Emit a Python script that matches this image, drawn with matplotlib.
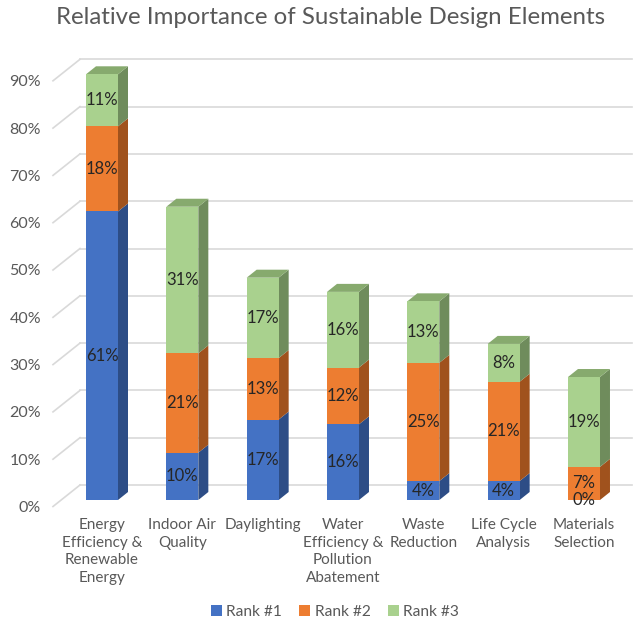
import matplotlib
matplotlib.use("Agg")
import matplotlib.pyplot as plt
from matplotlib.patches import Polygon, Patch

plt.rcParams['font.family'] = ['Lato', 'DejaVu Sans']

categories = ["Energy\nEfficiency &\nRenewable\nEnergy", "Indoor Air\nQuality", "Daylighting",
              "Water\nEfficiency &\nPollution\nAbatement", "Waste\nReduction",
              "Life Cycle\nAnalysis", "Materials\nSelection"]
series_names = ["Rank #1", "Rank #2", "Rank #3"]
rank1 = [61, 10, 17, 16, 4, 4, 0]
rank2 = [18, 21, 13, 12, 25, 21, 7]
rank3 = [11, 31, 17, 16, 13, 8, 19]
yticks = [0, 10, 20, 30, 40, 50, 60, 70, 80, 90]
title = "Relative Importance of Sustainable Design Elements"

front_colors = ["#4472C4", "#ED7D31", "#A9D18E"]
side_colors = ["#2D4D86", "#A0521D", "#6F8C5C"]
top_colors = ["#3A62A8", "#C9682A", "#87AA6E"]

W, H = 637, 624
fig = plt.figure(figsize=(W / 100, H / 100), dpi=100)
ax = fig.add_axes([0, 0, 1, 1])
px_cat = 80.33
px_pct = 4.73
x0_px = 102
y0_px = 500
ax.set_xlim(-x0_px / px_cat, (W - x0_px) / px_cat)
ax.set_ylim(-(H - y0_px) / px_pct, y0_px / px_pct)
ax.axis('off')

bw = 32 / px_cat
ddx = 10 / px_cat
ddy = 8 / px_pct

# walls / gridlines
wall_back_x = (80 - x0_px) / px_cat
wall_front_x = (53 - x0_px) / px_cat
back_dy = 15 / px_pct
front_dy = -6.5 / px_pct
right_x = (632 - x0_px) / px_cat
gc = "#D9D9D9"
for v in yticks:
    ax.plot([wall_front_x, wall_back_x], [v + front_dy, v + back_dy], color=gc, lw=1.2, zorder=1)
    ax.plot([wall_back_x, right_x], [v + back_dy, v + back_dy], color=gc, lw=1.2, zorder=1)
    ax.text((41 - x0_px) / px_cat, v + front_dy - 0.3, f"{v}%", ha='right', va='center',
            fontsize=11.5, color="#595959")

series = [rank1, rank2, rank3]
n = len(categories)
for i in range(n):
    base = 0
    for s in range(3):
        val = series[s][i]
        xl = i - bw / 2
        xr = i + bw / 2
        top = base + val
        z = 3 + i * 0.1
        if val > 0:
            ax.bar(i, val, bottom=base, width=bw, color=front_colors[s], zorder=z + 0.02, linewidth=0)
            side = Polygon([(xr, base), (xr + ddx, base + ddy), (xr + ddx, top + ddy), (xr, top)],
                           closed=True, facecolor=side_colors[s], edgecolor='none', zorder=z)
            ax.add_patch(side)
            if s == 2 or all(series[k][i] == 0 for k in range(s + 1, 3)):
                topf = Polygon([(xl, top), (xl + ddx, top + ddy), (xr + ddx, top + ddy), (xr, top)],
                               closed=True, facecolor=top_colors[s], edgecolor='none', zorder=z + 0.01)
                ax.add_patch(topf)
        ax.text(i, base + val / 2, f"{val}%", ha='center', va='center', fontsize=12,
                color="#262626", zorder=10)
        base = top

for i, c in enumerate(categories):
    ax.text(i, (y0_px - 518) / px_pct, c, ha='center', va='top', fontsize=11,
            color="#595959", linespacing=1.33)

ax.text((331 - x0_px) / px_cat, (y0_px - 18) / px_pct, title, ha='center', va='center',
        fontsize=17.3, color="#595959")

handles = [Patch(facecolor=front_colors[k], edgecolor='none') for k in range(3)]
fig.legend(handles, series_names, loc='center', bbox_to_anchor=(335 / W, 1 - 612 / H), ncol=3,
           frameon=False, fontsize=11.2, handlelength=0.7, handleheight=0.7, handletextpad=0.3,
           columnspacing=1.1, labelcolor="#595959")

fig.savefig("out.png", dpi=100)
